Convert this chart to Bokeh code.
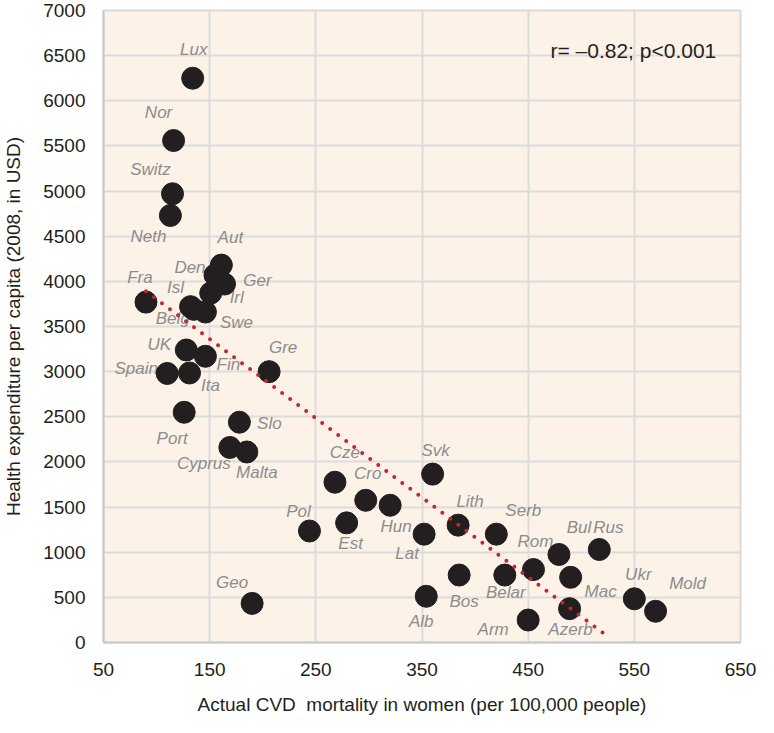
from bokeh.plotting import figure
from bokeh.models import ColumnDataSource, FixedTicker, Range1d
from bokeh.core.properties import value
from bokeh.embed import file_html
from bokeh.resources import INLINE

# ---- data ----
countries = ["Lux", "Nor", "Switz", "Neth", "Aut", "Den", "Ger", "Irl", "Fra", "Isl",
             "Belg", "Swe", "UK", "Fin", "Spain", "Ita", "Gre", "Port", "Slo", "Cyprus",
             "Malta", "Cze", "Cro", "Svk", "Hun", "Pol", "Est", "Lat", "Lith", "Geo",
             "Alb", "Bos", "Serb", "Bul", "Rus", "Rom", "Belar", "Mac", "Ukr", "Mold",
             "Arm", "Azerb"]
cvd_mortality = [134, 116, 115, 113, 161, 155, 164, 151, 90, 132,
                 135, 146, 128, 146, 110, 131, 206, 126, 178, 169,
                 185, 268, 297, 360, 320, 244, 279, 352, 384, 190,
                 354, 385, 420, 479, 517, 455, 428, 490, 550, 570,
                 450, 489]
health_exp = [6250, 5560, 4970, 4730, 4180, 4070, 3970, 3870, 3770, 3720,
              3690, 3660, 3240, 3170, 2980, 2985, 3000, 2550, 2440, 2160,
              2110, 1775, 1575, 1865, 1520, 1235, 1325, 1200, 1300, 433,
              512, 747, 1200, 975, 1030, 808, 747, 722, 484, 346,
              249, 375]
trend_x = [90, 524]
trend_y = [3890, 75]
x_ticks = [50, 150, 250, 350, 450, 550, 650]
y_ticks = list(range(0, 7001, 500))
annotation = "r= \u20130.82; p<0.001"

# label placement (screen px offsets from each dot)
label_dx = [1, -15, -22, -22, 9, -25, 33, 26, -6, -15,
            -21, 31, -27, 23, -31, 21, 14, -12, 30, -26,
            10, 10, 2, 3, 6, -11, 4, -17, 12, -20,
            -5, 5, 27, 20, 9, 2, 1, 30, 4, 32,
            -35, 1]
label_dy = [-29, -28, -24, 21, -28, -8, -4, 4, -25, -19,
            9, 10, -5, 8, -5, 13, -24, 26, 1, 16,
            21, -30, -27, -24, 21, -19, 21, 19, -24, -21,
            25, 26, -24, -27, -22, -28, 17, 14, -24, -28,
            9, 21]

src = ColumnDataSource(dict(x=cvd_mortality, y=health_exp, name=countries,
                            dx=label_dx, dy=label_dy))

FONT = "Liberation Sans"
INK = "#231f20"

p = figure(width=758, height=717, output_backend="svg", toolbar_location=None,
           x_range=Range1d(50, 650), y_range=Range1d(0, 7000),
           min_border_left=93, min_border_right=18, min_border_top=10, min_border_bottom=70)

p.background_fill_color = "#fcf2e8"
p.border_fill_color = "white"
p.outline_line_color = "#d9d9d9"
p.outline_line_width = 2

p.xaxis.ticker = FixedTicker(ticks=x_ticks)
p.yaxis.ticker = FixedTicker(ticks=y_ticks)
p.xgrid.ticker = FixedTicker(ticks=x_ticks)
p.ygrid.ticker = FixedTicker(ticks=y_ticks)
for g in (p.xgrid, p.ygrid):
    g.grid_line_color = "#dcdcdc"
    g.grid_line_width = 2

for ax in (p.xaxis, p.yaxis):
    ax.axis_line_color = "#c8c8c8"
    ax.axis_line_width = 2
    ax.major_tick_in = 0
    ax.major_tick_out = 0
    ax.minor_tick_in = 0
    ax.minor_tick_out = 0
    ax.major_label_text_font = FONT
    ax.major_label_text_font_size = "19px"
    ax.major_label_text_color = INK
    ax.major_label_text_line_height = 1.0
    ax.axis_label_text_font = FONT
    ax.axis_label_text_font_size = "19px"
    ax.axis_label_text_font_style = "normal"
    ax.axis_label_text_color = INK
    ax.axis_label_text_line_height = 1.0

p.xaxis.major_label_standoff = 20
p.yaxis.major_label_standoff = 18
p.xaxis.axis_label = "Actual CVD\u00a0 mortality in women (per 100,000 people)"
p.yaxis.axis_label = "Health expenditure per capita (2008, in USD)"
p.xaxis.axis_label_standoff = 15
p.yaxis.axis_label_standoff = 16

# labels (drawn beneath the dots)
p.text(x="x", y="y", text="name", source=src, x_offset="dx", y_offset="dy",
       text_font=value(FONT), text_font_style="italic", text_font_size="17px",
       text_color="#8c8c8c", text_align="center", text_baseline="middle")

# dots
p.scatter(x="x", y="y", source=src, size=22, fill_color=INK, line_color=INK)

# dotted trend line
p.line(trend_x, trend_y, line_color="#c1272d", line_width=4,
       line_dash="0 10", line_cap="round")

# correlation text
p.text(x=[471], y=[6560], text=[annotation],
       text_font=value(FONT), text_font_size="21px", text_color=INK,
       text_align="left", text_baseline="middle")

open("out.html", "w").write(file_html(p, INLINE))
